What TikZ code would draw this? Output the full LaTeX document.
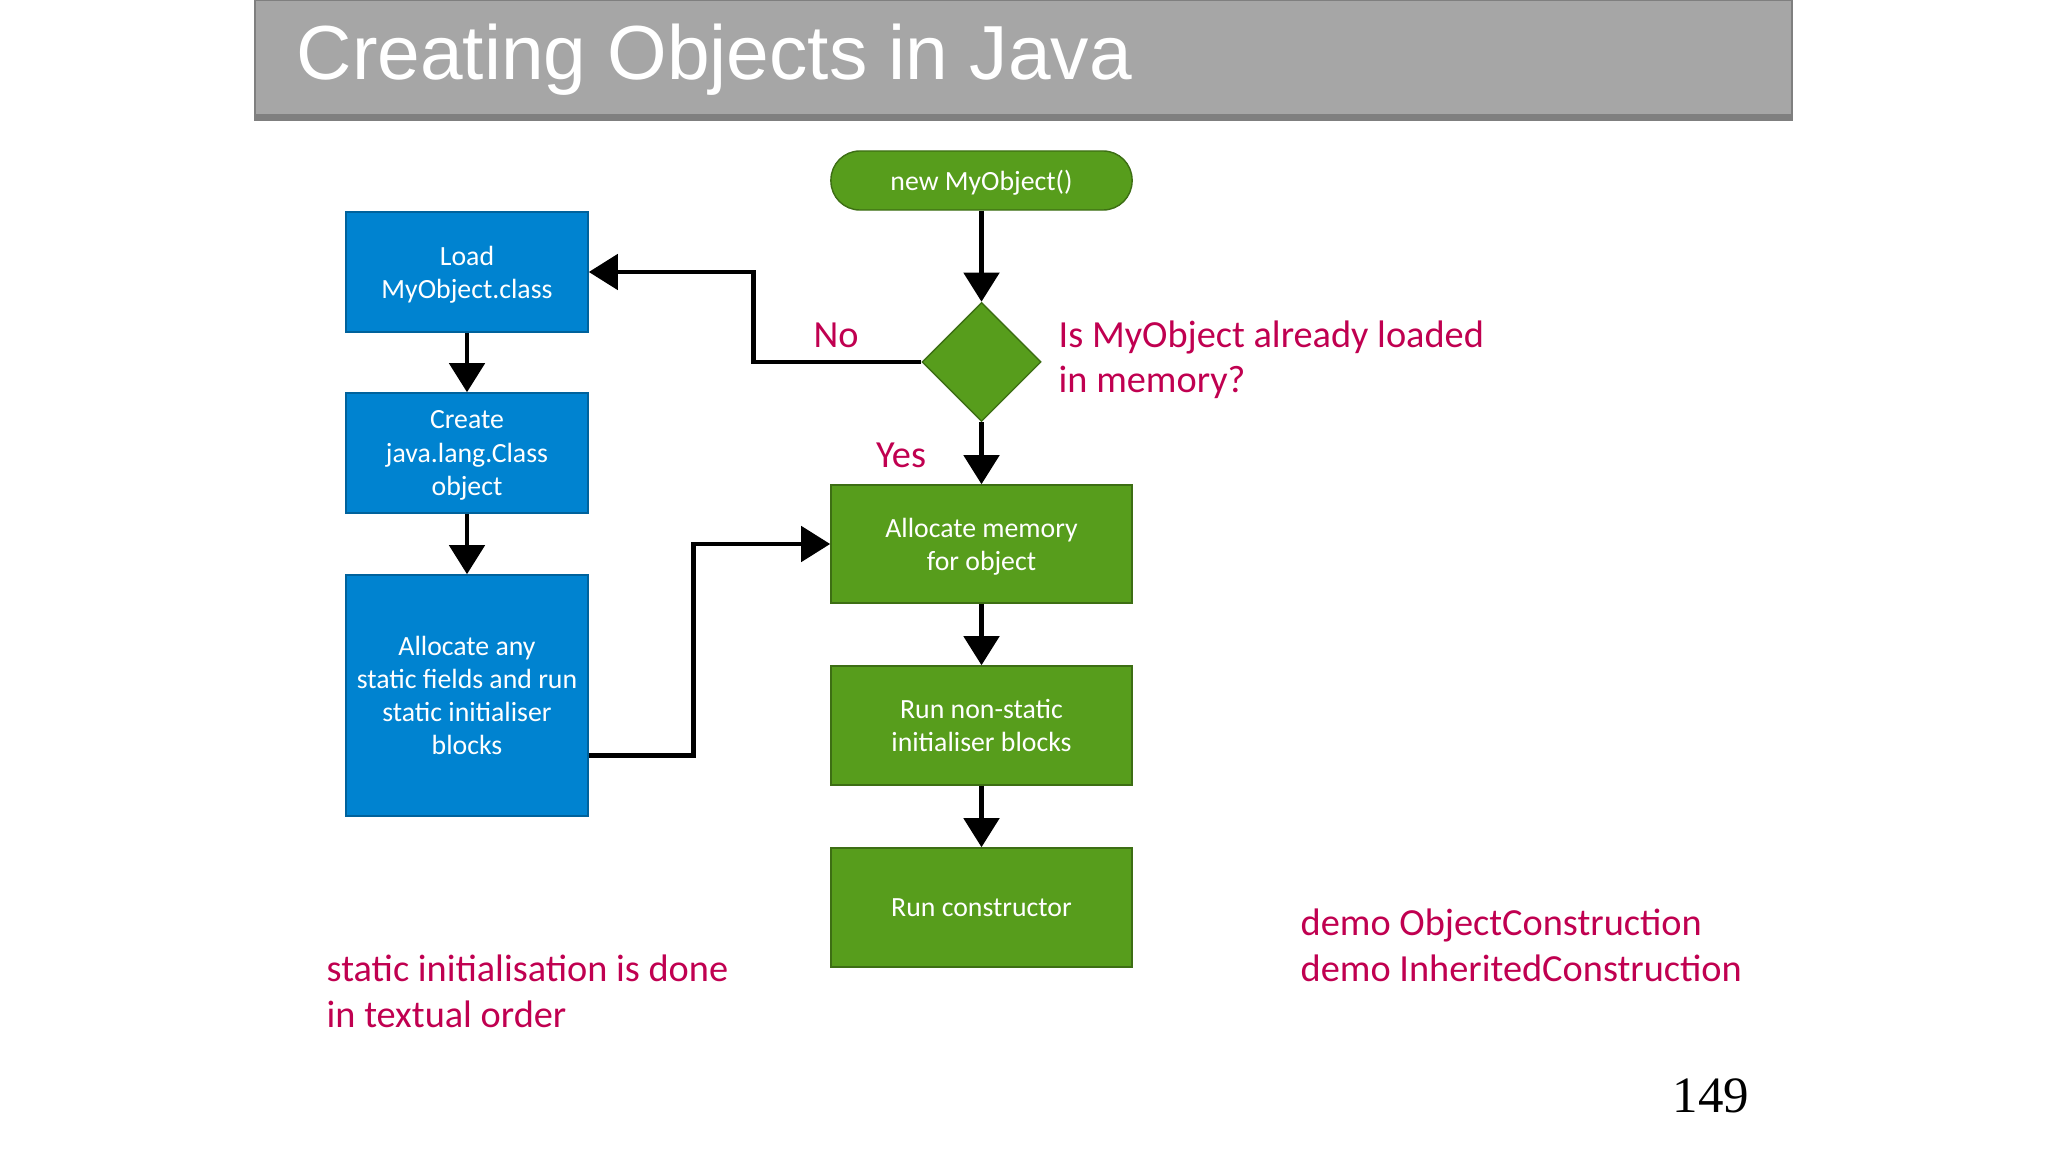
\documentclass[tikz,border=0pt]{standalone}
\usepackage{fontspec}
\setmainfont{Carlito}
\newfontfamily\headfont{Liberation Sans}
\newfontfamily\numfont{Liberation Serif}
\usetikzlibrary{positioning, arrows.meta, shapes.geometric}
\definecolor{clsblue}{RGB}{0,131,208}
\definecolor{objgreen}{RGB}{87,157,28}
\definecolor{notered}{RGB}{192,0,80}
\definecolor{bargray}{RGB}{166,166,166}
\definecolor{bardark}{RGB}{127,127,127}

\begin{document}
\begin{tikzpicture}[x=0.01cm, y=-0.01cm,
  boxtext/.style={text=white, align=center, inner sep=0pt, text depth=-1.5pt,
    font=\fontsize{7.9}{9.4}\selectfont},
  clsbox/.style={boxtext, draw=clsblue!75!black, fill=clsblue, line width=0.4pt,
    minimum width=2.42cm, minimum height=1.2cm},
  objbox/.style={boxtext, draw=objgreen!70!black, fill=objgreen, line width=0.4pt,
    minimum width=3.01cm, minimum height=1.18cm},
  flow/.style={line width=1.4pt, -{Triangle[length=8.3pt, width=10pt]}},
  note/.style={text=notered, inner sep=0pt, align=left,
    font=\fontsize{10.9}{13}\selectfont}]
\useasboundingbox (0,0) rectangle (2048,1152);

% title bar
\fill[bargray, draw=bardark, line width=0.5pt] (255,0) rectangle (1792,120);
\fill[bardark] (255,114) rectangle (1792,120);
\node[anchor=base west, inner sep=0pt, text=white,
  font=\headfont\fontsize{21.8}{25}\selectfont] (title) at (296,80) {Creating Objects in Java};

% object side
\node[objbox, rounded corners=0.29cm, minimum height=0.59cm] (new) at (981.5,180.5) {new MyObject()};
\node[diamond, fill=objgreen, draw=objgreen!70!black, line width=0.4pt, inner sep=0pt,
  minimum width=1.19cm, minimum height=1.19cm] (loaded) at (981.5,362) {};
\node[objbox] (alloc) at (981.5,544) {Allocate memory\\for object};
\node[objbox, minimum height=1.19cm] (inits) at (981.5,725.5) {Run non-static\\initialiser blocks};
\node[objbox, minimum height=1.19cm] (ctor) at (981.5,907.5) {Run constructor};

% class side
\node[clsbox] (load) at (467,272) {Load\\MyObject.class};
\node[clsbox] (mkcls) at (467,453) {Create\\java.lang.Class\\object};
\node[clsbox, minimum height=2.41cm] (statics) at (467,695.5)
  {Allocate any\\static fields and run\\static initialiser\\blocks};

% connectors
\draw[flow] (new) -- (loaded);
\draw[flow] (loaded.west) -- ++(-168,0) |- (load.east);
\draw[flow] (loaded) -- (alloc);
\draw[flow] (alloc) -- (inits);
\draw[flow] (inits) -- (ctor);
\draw[flow] (load) -- (mkcls);
\draw[flow] (mkcls) -- (statics);
\draw[flow] ([yshift=-0.6cm]statics.east) -- ++(105,0) |- (alloc.west);

% labels
\node[note, anchor=base] (no) at (836,348) {No};
\node[note, anchor=base] (yes) at (901,468) {Yes};
\node[note, anchor=base west] (question) at (1058,393) {Is MyObject already loaded\\in memory?};
\node[note, anchor=base west] (order) at (326,1027) {static initialisation is done\\in textual order};
\node[note, anchor=base west] (demo) at (1300,981) {demo ObjectConstruction\\demo InheritedConstruction};
\node[anchor=base east, inner sep=0pt, font=\numfont\fontsize{14.5}{17}\selectfont] (page) at (1750,1112) {149};
\end{tikzpicture}
\end{document}
